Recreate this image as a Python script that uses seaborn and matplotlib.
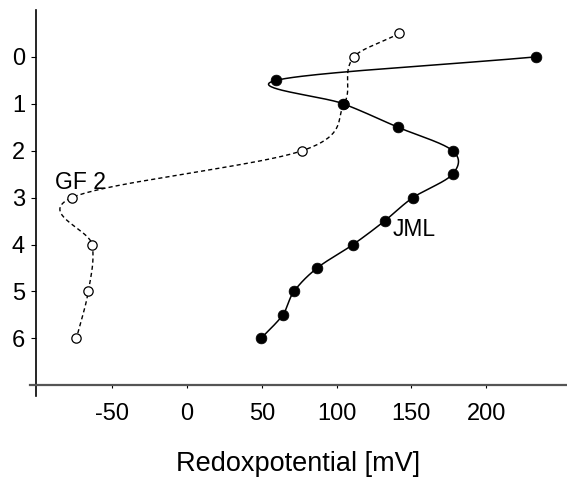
import numpy as np
import pandas as pd
import matplotlib
matplotlib.use("Agg")
import matplotlib.pyplot as plt
import seaborn as sns

# Messwerte (Tiefe / Redoxpotential in mV)
jml_depth = [0, 0.5, 1, 1.5, 2, 2.5, 3, 3.5, 4, 4.5, 5, 5.5, 6]
jml_redox = [233, 59.5, 104.5, 141, 177.5, 177.5, 151, 132, 111, 87, 71.5, 64, 49.5]

gf2_depth = [-0.5, 0, 1, 2, 3, 4, 5, 6]
gf2_redox = [142, 111.5, 105, 77, -77, -63.5, -66, -74]

x_ticks = [-50, 0, 50, 100, 150, 200]
y_ticks = [0, 1, 2, 3, 4, 5, 6]


def smooth(depth, vals, n=40):
    # Catmull-Rom Spline (Parameter = Tiefe), nur fuer die Linienfuehrung
    t = np.asarray(depth, float)
    x = np.asarray(vals, float)
    m = np.empty_like(x)
    m[0] = (x[1] - x[0]) / (t[1] - t[0])
    m[-1] = (x[-1] - x[-2]) / (t[-1] - t[-2])
    m[1:-1] = (x[2:] - x[:-2]) / (t[2:] - t[:-2])
    ts, xs = [], []
    for i in range(len(t) - 1):
        h = t[i + 1] - t[i]
        s = np.linspace(0, 1, n, endpoint=(i == len(t) - 2))
        h00 = 2 * s**3 - 3 * s**2 + 1
        h10 = s**3 - 2 * s**2 + s
        h01 = -2 * s**3 + 3 * s**2
        h11 = s**3 - s**2
        xs.append(h00 * x[i] + h10 * h * m[i] + h01 * x[i + 1] + h11 * h * m[i + 1])
        ts.append(t[i] + s * h)
    return pd.DataFrame({"depth": np.concatenate(ts), "redox": np.concatenate(xs)})


sns.set_style("white")
plt.rcParams["font.family"] = ["Liberation Sans", "DejaVu Sans"]
plt.rcParams["axes.unicode_minus"] = False
plt.rcParams["text.color"] = "black"

fig = plt.figure(figsize=(5.67, 4.78), dpi=100)
ax = fig.add_axes([30 / 567, 1 - 396 / 478, 1 - 30 / 567, (396 - 10) / 478])

gf2_line = smooth(gf2_depth, gf2_redox)
jml_line = smooth(jml_depth, jml_redox)

sns.lineplot(data=gf2_line, x="redox", y="depth", sort=False, estimator=None,
             color="black", lw=1.0, ax=ax)
ax.lines[-1].set_dashes([3.0, 2.2])
sns.scatterplot(x=gf2_redox, y=gf2_depth, marker="o", s=45, facecolor="white",
                edgecolor="black", linewidth=0.9, ax=ax, zorder=3)

sns.lineplot(data=jml_line, x="redox", y="depth", sort=False, estimator=None,
             color="black", lw=1.1, ax=ax)
sns.scatterplot(x=jml_redox, y=jml_depth, marker="o", s=60, color="black",
                edgecolor="black", linewidth=0.5, ax=ax, zorder=4)

ax.text(-71, 2.68, "GF 2", fontsize=16.5, ha="center", va="center", color="black")
ax.text(152, 3.69, "JML", fontsize=16.5, ha="center", va="center", color="black")

ax.set_xlim(-105, 254)
ax.set_ylim(7.23, -1)
ax.set_xticks(x_ticks)
ax.set_yticks(y_ticks)
ax.set_xlabel("Redoxpotential [mV]", fontsize=19.5, labelpad=18.5, color="black")
ax.set_ylabel("")

for side in ["top", "right"]:
    ax.spines[side].set_visible(False)
ax.spines["left"].set_position(("data", -101))
ax.spines["bottom"].set_position(("data", 7))
ax.spines["left"].set_color("black")
ax.spines["bottom"].set_color("#555555")
ax.spines["left"].set_linewidth(1.2)
ax.spines["bottom"].set_linewidth(1.6)

ax.tick_params(axis="x", direction="out", length=2.2, width=0.8, pad=10.9,
               labelsize=17, bottom=True, colors="black")
ax.tick_params(axis="y", direction="out", length=3.6, width=0.8, pad=4.3,
               labelsize=17, left=True, colors="black")

fig.savefig("out.png", dpi=100)
